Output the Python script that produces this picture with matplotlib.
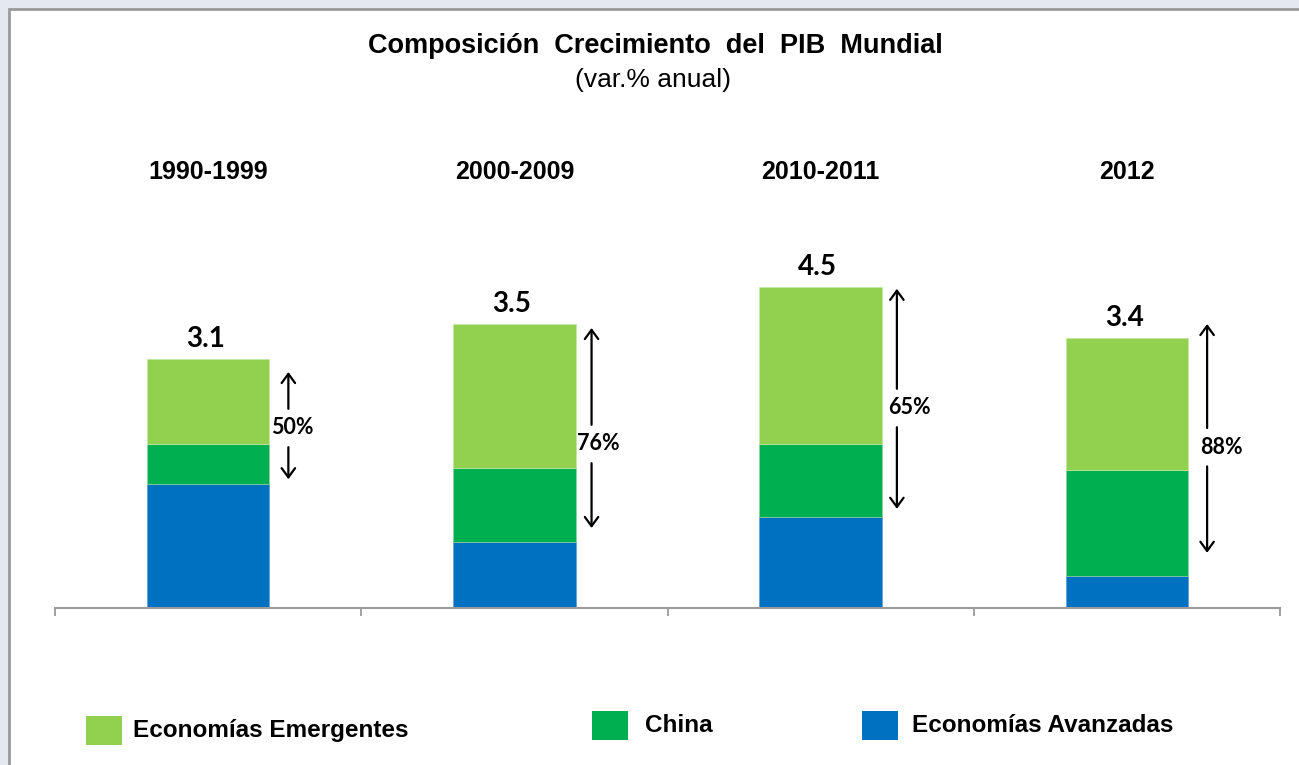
import matplotlib
matplotlib.use("Agg")
import matplotlib.pyplot as plt
from matplotlib.patches import Rectangle
import numpy as np

# ---- data ----
categories = ["1990-1999", "2000-2009", "2010-2011", "2012"]
avanzadas = [1.55, 0.83, 1.14, 0.40]
china = [0.50, 0.92, 0.91, 1.33]
emergentes = [1.06, 1.80, 1.96, 1.64]
total_labels = ["3.1", "3.5", "4.5", "3.4"]
share_labels = ["50%", "76%", "65%", "88%"]
series_names = ["Economías Emergentes", "China", "Economías Avanzadas"]

# share-arrow annotation extents (in value units)
arrow_top = [2.95, 3.50, 3.99, 3.55]
arrow_bottom = [1.61, 1.00, 1.24, 0.69]
share_label_y = [2.25, 2.05, 2.50, 2.01]

C_EMER = "#92D050"
C_CHINA = "#00B050"
C_ADV = "#0070C0"

W, H = 1299, 765
fig = plt.figure(figsize=(W / 100, H / 100), dpi=100)
fig.patch.set_facecolor("#E4E9F1")

def fx(px):
    return px / W

def fy(py):
    return 1 - py / H

# white panel with gray border
panel = Rectangle((fx(9), -0.01), 1.01 - fx(9), fy(9) + 0.01, transform=fig.transFigure,
                  facecolor="white", edgecolor="#9A9A9A", linewidth=2.0, zorder=-10)
fig.patches.append(panel)

base_px = 608
top_px = 208
ax = fig.add_axes([fx(55), fy(base_px), fx(1280) - fx(55), (base_px - top_px) / H])
ax.set_facecolor("none")
ax.set_zorder(2)

x = np.arange(len(categories))
bw = 0.40
adv = np.array(avanzadas)
chi = np.array(china)
eme = np.array(emergentes)
ax.bar(x, adv, bw, color=C_ADV, edgecolor="#5B9BD5", linewidth=0.5, zorder=2)
ax.bar(x, chi, bw, bottom=adv, color=C_CHINA, edgecolor="#8FD19E", linewidth=0.5, zorder=2)
ax.bar(x, eme, bw, bottom=adv + chi, color=C_EMER, edgecolor="#C5E6A6", linewidth=0.5, zorder=2)

ax.set_xlim(-0.5, len(categories) - 0.5)
ax.set_ylim(0, 5)
for s in ["top", "right", "left"]:
    ax.spines[s].set_visible(False)
ax.spines["bottom"].set_color("#9A9A9A")
ax.spines["bottom"].set_linewidth(1.5)
ax.set_yticks([])
ax.set_xticks(np.arange(len(categories) + 1) - 0.5)
ax.set_xticklabels([])
ax.tick_params(axis="x", direction="out", length=6, width=1.3, color="#9A9A9A")

arrow_dx = [0.062, 0.052, 0.049, 0.062]
label_dx = [0.013, 0.023, 0.042, 0.046]
tops = adv + chi + eme
astyle = "->,head_length=0.3,head_width=0.22"
for i in range(len(categories)):
    # total label
    ax.annotate(total_labels[i], (x[i], tops[i]), xytext=(-2, 5), textcoords="offset points",
                ha="center", va="bottom", fontsize=20, fontweight="bold", family="Lato",
                color="black")
    # share arrows
    axx = x[i] + bw / 2 + arrow_dx[i]
    mid = share_label_y[i]
    gap = 0.24
    ax.annotate("", xy=(axx, arrow_top[i]), xytext=(axx, mid + gap),
                arrowprops=dict(arrowstyle=astyle, color="black", lw=1.6,
                                mutation_scale=22, shrinkA=0, shrinkB=0))
    ax.annotate("", xy=(axx, arrow_bottom[i]), xytext=(axx, mid - gap),
                arrowprops=dict(arrowstyle=astyle, color="black", lw=1.6,
                                mutation_scale=22, shrinkA=0, shrinkB=0))
    ax.text(axx + label_dx[i], mid, share_labels[i], ha="center", va="center",
            fontsize=15.5, fontweight="bold", family="Lato", color="black")

# category headers
for i, c in enumerate(categories):
    xf = fx(55) + (i + 0.5) * (fx(1280) - fx(55)) / len(categories)
    fig.text(xf, fy(172), c, ha="center", va="center", fontsize=18,
             fontweight="bold", family="Liberation Sans")

# title
fig.text(fx(655), fy(46), "Composición  Crecimiento  del  PIB  Mundial", ha="center", va="center",
         fontsize=19.5, fontweight="bold", family="Liberation Sans")
fig.text(fx(653), fy(80), "(var.% anual)", ha="center", va="center",
         fontsize=19, family="Liberation Sans")

# legend
leg = [(86, 716, C_EMER, series_names[0], 133, 730),
       (592, 711, C_CHINA, series_names[1], 645, 726),
       (862, 711, C_ADV, series_names[2], 912, 726)]
for sx, sy, col, name, tx, ty in leg:
    fig.patches.append(Rectangle((fx(sx), fy(sy + 29)), fx(36), 29 / H,
                                 transform=fig.transFigure, facecolor=col,
                                 edgecolor="none", zorder=3))
    fig.text(fx(tx), fy(ty), name, ha="left", va="center", fontsize=17.5,
             fontweight="bold", family="Liberation Sans")

fig.savefig("out.png", dpi=100, facecolor=fig.get_facecolor())
